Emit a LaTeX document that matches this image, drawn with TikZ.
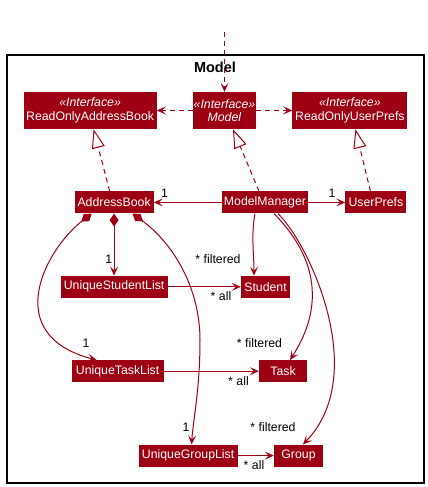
\documentclass[tikz,border=0pt]{standalone}
\usepackage{fontspec}
\setmainfont{Liberation Sans}
\usetikzlibrary{arrows.meta, positioning}
\definecolor{modelred}{HTML}{9D0012}

\begin{document}
\begin{tikzpicture}[
    x=1pt, y=-1pt,
    node distance=62pt and 36pt,
    cls/.style={rectangle, fill=modelred, text=white, inner xsep=0pt, inner ysep=0pt, minimum height=22pt, align=center, font=\fontsize{12.3}{13.5}\selectfont},
    iface/.style={cls, minimum height=37pt},
    lbl/.style={anchor=base, inner sep=0pt, font=\fontsize{12.3}{13.5}\selectfont},
    dep/.style={draw=modelred, line width=1pt, dash pattern=on 5pt off 4pt, -{Stealth[length=9pt, width=8pt, inset=4pt]}},
    assoc/.style={draw=modelred, line width=1pt, -{Stealth[length=9pt, width=8pt, inset=4pt]}},
    realize/.style={draw=modelred, line width=1pt, dash pattern=on 5pt off 4pt, -{Triangle[open, length=19pt, width=13pt, fill=white]}},
    compose/.style={draw=modelred, line width=1pt, {Diamond[length=13pt, width=9pt]}-{Stealth[length=9pt, width=8pt, inset=4pt]}}
  ]
  \useasboundingbox (0,0) rectangle (428,487);
  \draw[gray!60, line width=2.5pt] (7,55) rectangle (424,483);
  \draw[black, line width=1.2pt] (7,55) rectangle (424,483);
  \node[anchor=base, font=\fontsize{14.5}{16}\selectfont\bfseries] (title) at (215,72.7) {Model};

  \node[iface, minimum width=63pt] (model) at (224.5,110.5) {\textit{«Interface»}\\\textit{Model}};
  \node[iface, minimum width=133pt, left=36pt of model] (roab) {\textit{«Interface»}\\ReadOnlyAddressBook};
  \node[iface, minimum width=115pt, right=36pt of model] (roup) {\textit{«Interface»}\\ReadOnlyUserPrefs};
  \node[cls, minimum width=79pt, below=62pt of roab, xshift=24pt] (ab) {AddressBook};
  \node[cls, minimum width=86pt, right=68pt of ab] (mm) {ModelManager};
  \node[cls, minimum width=61pt, right=37pt of mm] (up) {UserPrefs};
  \node[cls, minimum width=107pt, below=of ab] (usl) {UniqueStudentList};
  \node[cls, minimum width=49pt, below=of mm, xshift=0.5pt] (student) {Student};
  \node[cls, minimum width=92pt, below=of usl, xshift=3.5pt] (utl) {UniqueTaskList};
  \node[cls, minimum width=48pt, right=95pt of utl] (task) {Task};
  \node[cls, minimum width=99pt, below=of utl, xshift=70.5pt] (ugl) {UniqueGroupList};
  \node[cls, minimum width=49pt, right=36pt of ugl] (group) {Group};

  \coordinate (entry) at (224.5,32);
  \draw[dep] (entry) -- (model);
  \draw[dep] (model) -- (roab);
  \draw[dep] (model) -- (roup);
  \draw[realize] ([xshift=-4.5pt]ab.north) -- ([xshift=3.5pt]roab.south);
  \draw[realize] ([xshift=-6pt]mm.north) -- ([xshift=8.5pt]model.south);
  \draw[realize] ([xshift=-5.5pt]up.north) -- ([xshift=5.5pt]roup.south);
  \draw[assoc] (mm) -- (ab);
  \draw[assoc] (mm) -- (up);
  \draw[compose] (ab) -- (usl);
  \draw[compose] ([xshift=-22.5pt]ab.south) .. controls (45,250) and (0,335) .. ([xshift=-21pt]utl.north);
  \draw[compose] ([xshift=18.5pt]ab.south) .. controls (175,245) and (200,290) .. (200,340) .. controls (200,390) and (193,420) .. ([xshift=3.5pt]ugl.north);
  \draw[assoc] ([xshift=-10pt]mm.south) .. controls (251,235) and (254,255) .. ([xshift=-11.5pt]student.north);
  \draw[assoc] ([xshift=9pt]mm.south) .. controls (300,240) and (335,290) .. ([xshift=7pt]task.north);
  \draw[assoc] ([xshift=13pt]mm.south) .. controls (310,245) and (370,375) .. ([xshift=4.5pt]group.north);
  \draw[assoc] (usl) -- (student);
  \draw[assoc] (utl) -- (task);
  \draw[assoc] (ugl) -- (group);

  \node[lbl] (abone) at (164.5,197) {1};
  \node[lbl] (upone) at (332,197) {1};
  \node[lbl] (uslone) at (108.8,263.3) {1};
  \node[lbl] (studentfilt) at (218,263) {* filtered};
  \node[lbl] (studentall) at (221,300.7) {* all};
  \node[lbl] (utlone) at (86,347) {1};
  \node[lbl] (taskfilt) at (259.5,347) {* filtered};
  \node[lbl] (taskall) at (238.5,385) {* all};
  \node[lbl] (uglone) at (186,431.7) {1};
  \node[lbl] (groupfilt) at (273,431.7) {* filtered};
  \node[lbl] (groupall) at (254,469) {* all};
\end{tikzpicture}
\end{document}
